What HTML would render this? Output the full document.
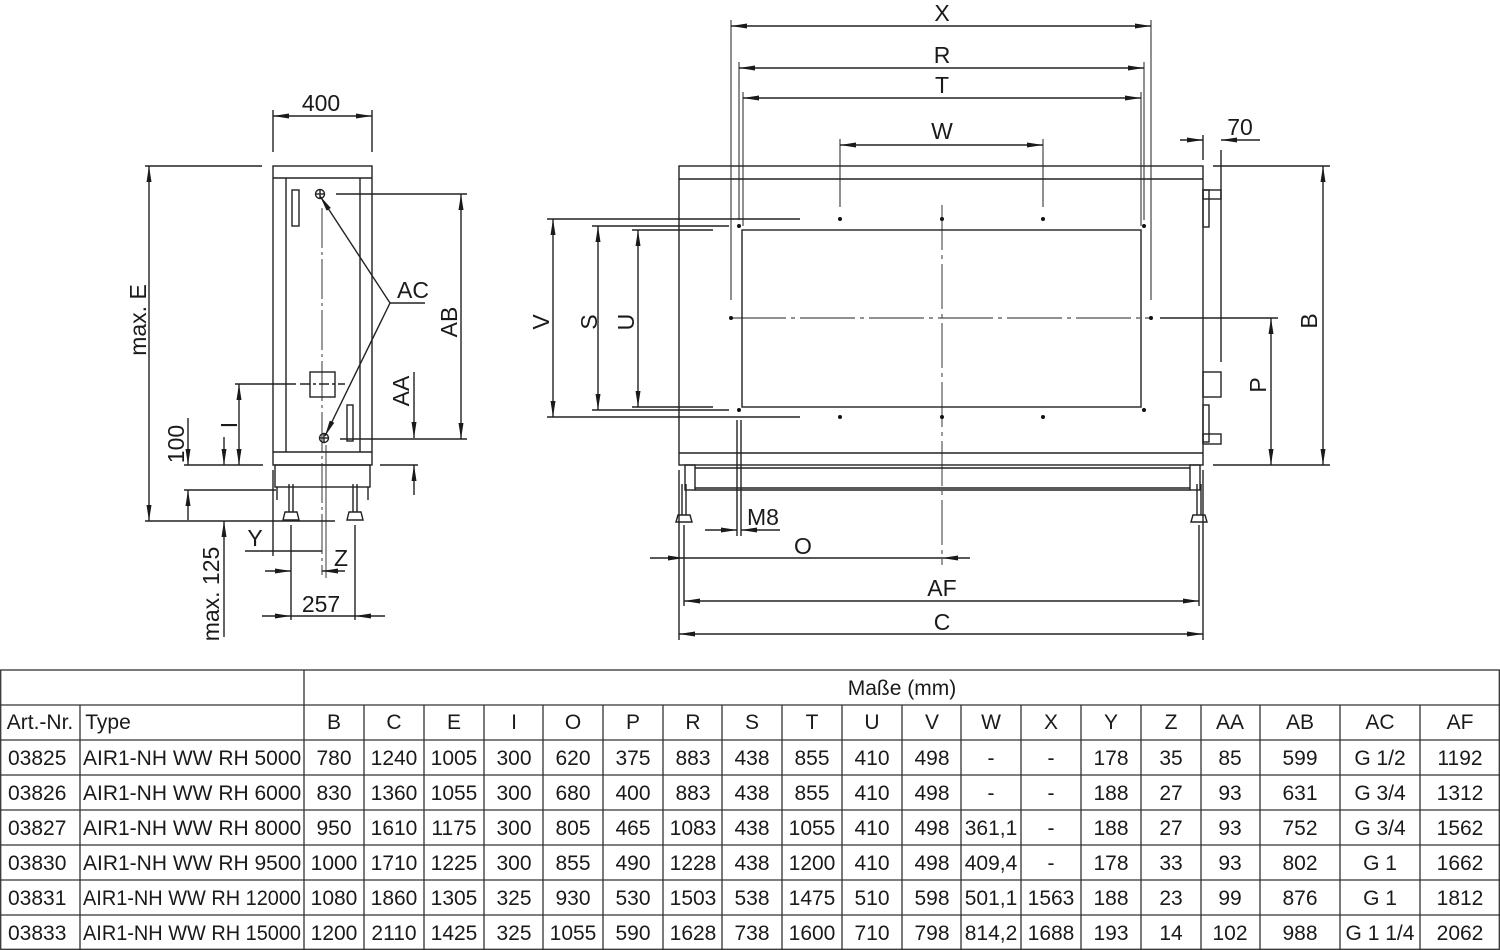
<!DOCTYPE html>
<html><head><meta charset="utf-8"><style>
html,body{margin:0;padding:0;background:#fff;width:1500px;height:950px;overflow:hidden}
svg{display:block}
text{font-family:"Liberation Sans",sans-serif;fill:#1a1a1a}
</style></head><body>
<svg width="1500" height="950" viewBox="0 0 1500 950" xmlns="http://www.w3.org/2000/svg">
<defs>
<marker id="a" viewBox="0 0 16 6" refX="16" refY="3" markerWidth="16" markerHeight="6" markerUnits="userSpaceOnUse" orient="auto-start-reverse"><path d="M0,0.5 L16,3 L0,5.5 z" fill="#1a1a1a"/></marker>
</defs>
<g stroke="#222" stroke-width="1.4" fill="none">
<!-- LEFT VIEW -->
<rect x="273" y="166" width="99" height="299"/>
<line x1="273" y1="178" x2="372" y2="178"/>
<line x1="273" y1="452" x2="372" y2="452"/>
<line x1="286" y1="178" x2="286" y2="452"/>
<line x1="360" y1="178" x2="360" y2="452"/>
<rect x="292" y="190" width="7" height="36"/>
<rect x="347" y="405" width="6" height="36"/>
<circle cx="320" cy="194" r="4.5"/><line x1="315" y1="194" x2="325" y2="194"/><line x1="320" y1="189" x2="320" y2="199"/>
<circle cx="324" cy="438" r="4.5"/><line x1="319" y1="438" x2="329" y2="438"/><line x1="324" y1="433" x2="324" y2="443"/>
<rect x="310" y="372" width="25" height="25"/>
<line x1="322" y1="208" x2="322" y2="575" stroke-width="0.9" stroke-dasharray="40,4,3,4"/>
<line x1="326" y1="445" x2="326" y2="578" stroke-width="0.9"/>
<rect x="275" y="465" width="95" height="22"/>
<line x1="277" y1="487" x2="277" y2="500"/><line x1="368" y1="487" x2="368" y2="500"/>
<line x1="289" y1="484" x2="289" y2="512"/><line x1="293" y1="484" x2="293" y2="512"/>
<line x1="353" y1="484" x2="353" y2="512"/><line x1="357" y1="484" x2="357" y2="512"/>
<path d="M283,520 L285,512 L297,512 L299,520 z"/><path d="M347,520 L349,512 L361,512 L363,520 z"/>
<line x1="273" y1="110" x2="273" y2="152"/><line x1="372" y1="110" x2="372" y2="152"/>
<line x1="273" y1="116" x2="372" y2="116" marker-start="url(#a)" marker-end="url(#a)"/>
<line x1="145" y1="166" x2="262" y2="166"/>
<line x1="145" y1="521" x2="335" y2="521"/>
<line x1="149" y1="166" x2="149" y2="521" marker-start="url(#a)" marker-end="url(#a)"/>
<line x1="336" y1="194" x2="467" y2="194"/><line x1="340" y1="439" x2="467" y2="439"/>
<line x1="461" y1="194" x2="461" y2="439" marker-start="url(#a)" marker-end="url(#a)"/>
<line x1="414" y1="372" x2="414" y2="438" marker-end="url(#a)"/>
<line x1="414" y1="495" x2="414" y2="465" marker-end="url(#a)"/>
<line x1="380" y1="465" x2="418" y2="465"/>
<line x1="235" y1="384" x2="296" y2="384"/><line x1="300" y1="384" x2="345" y2="384" stroke-dasharray="10,3,3,3"/>
<line x1="239" y1="384" x2="239" y2="465" marker-start="url(#a)" marker-end="url(#a)"/>
<line x1="184" y1="465" x2="263" y2="465"/><line x1="184" y1="490" x2="276" y2="490"/>
<line x1="188" y1="418" x2="188" y2="465" marker-end="url(#a)"/>
<line x1="188" y1="520" x2="188" y2="490" marker-end="url(#a)"/>
<line x1="224" y1="465" x2="224" y2="437" marker-start="url(#a)"/>
<line x1="224" y1="521" x2="224" y2="637" marker-start="url(#a)"/>
<line x1="390" y1="303" x2="320" y2="196" marker-end="url(#a)"/>
<line x1="390" y1="303" x2="325" y2="436" marker-end="url(#a)"/>
<line x1="390" y1="303" x2="425" y2="303"/>
<line x1="273" y1="470" x2="273" y2="556"/>
<line x1="245" y1="551" x2="322" y2="551"/>
<line x1="291" y1="525" x2="291" y2="620"/><line x1="355" y1="525" x2="355" y2="620"/>
<line x1="265" y1="571" x2="291" y2="571" marker-end="url(#a)"/>
<line x1="345" y1="571" x2="322" y2="571" marker-end="url(#a)"/>
<line x1="262" y1="616" x2="291" y2="616" marker-end="url(#a)"/>
<line x1="385" y1="616" x2="355" y2="616" marker-end="url(#a)"/>
<line x1="291" y1="616" x2="355" y2="616"/>

<!-- RIGHT VIEW -->
<rect x="679" y="166" width="524" height="299"/>
<line x1="679" y1="179" x2="1203" y2="179"/>
<line x1="679" y1="453" x2="1203" y2="453"/>
<rect x="742" y="230" width="399" height="177"/>
<rect x="1203" y="190" width="18" height="9"/><rect x="1203" y="190" width="6" height="37"/>
<rect x="1203" y="372" width="18" height="25"/>
<rect x="1203" y="405" width="6" height="37"/><rect x="1203" y="434" width="18" height="10"/>
<line x1="1221" y1="150" x2="1221" y2="362"/><line x1="1203" y1="135" x2="1203" y2="160"/>
<rect x="685" y="465" width="10" height="25"/><rect x="1190" y="465" width="10" height="25"/>
<line x1="695" y1="468" x2="1190" y2="468"/><line x1="695" y1="488" x2="1190" y2="488"/>
<line x1="695" y1="490" x2="1190" y2="490"/>
<line x1="682" y1="484" x2="682" y2="515"/><line x1="686" y1="484" x2="686" y2="515"/>
<line x1="1197" y1="484" x2="1197" y2="515"/><line x1="1201" y1="484" x2="1201" y2="515"/>
<path d="M676,522 L678,515 L690,515 L692,522 z"/><path d="M1191,522 L1193,515 L1205,515 L1207,522 z"/>
<line x1="731" y1="318" x2="1151" y2="318" stroke-width="0.9" stroke-dasharray="55,5,4,5"/>
<line x1="942" y1="205" x2="942" y2="565" stroke-width="0.9" stroke-dasharray="45,5,4,5"/>
<line x1="731" y1="20" x2="731" y2="300" stroke-width="1"/>
<line x1="1151" y1="20" x2="1151" y2="300" stroke-width="1"/>
<line x1="739" y1="62" x2="739" y2="220" stroke-width="1"/>
<line x1="1144" y1="62" x2="1144" y2="220" stroke-width="1"/>
<line x1="743" y1="92" x2="743" y2="226" stroke-width="1"/>
<line x1="1141" y1="92" x2="1141" y2="226" stroke-width="1"/>
<line x1="840" y1="139" x2="840" y2="207" stroke-width="1"/>
<line x1="1043" y1="139" x2="1043" y2="207" stroke-width="1"/>
<line x1="731" y1="26" x2="1151" y2="26" marker-start="url(#a)" marker-end="url(#a)"/>
<line x1="739" y1="68" x2="1144" y2="68" marker-start="url(#a)" marker-end="url(#a)"/>
<line x1="743" y1="98" x2="1141" y2="98" marker-start="url(#a)" marker-end="url(#a)"/>
<line x1="840" y1="145" x2="1043" y2="145" marker-start="url(#a)" marker-end="url(#a)"/>
<line x1="1180" y1="140" x2="1203" y2="140" marker-end="url(#a)"/>
<line x1="1260" y1="140" x2="1221" y2="140" marker-end="url(#a)"/>
<line x1="1213" y1="166" x2="1330" y2="166"/><line x1="1213" y1="465" x2="1330" y2="465"/>
<line x1="1323" y1="166" x2="1323" y2="465" marker-start="url(#a)" marker-end="url(#a)"/>
<line x1="1160" y1="318" x2="1278" y2="318"/>
<line x1="1271" y1="318" x2="1271" y2="465" marker-start="url(#a)" marker-end="url(#a)"/>
<line x1="547" y1="219" x2="800" y2="219"/><line x1="547" y1="417" x2="800" y2="417"/>
<line x1="553" y1="219" x2="553" y2="417" marker-start="url(#a)" marker-end="url(#a)"/>
<line x1="592" y1="226" x2="729" y2="226"/><line x1="592" y1="410" x2="729" y2="410"/>
<line x1="598" y1="226" x2="598" y2="410" marker-start="url(#a)" marker-end="url(#a)"/>
<line x1="632" y1="230" x2="713" y2="230"/><line x1="632" y1="407" x2="713" y2="407"/>
<line x1="638" y1="230" x2="638" y2="407" marker-start="url(#a)" marker-end="url(#a)"/>
<line x1="737" y1="420" x2="737" y2="536"/><line x1="741" y1="420" x2="741" y2="536"/>
<line x1="705" y1="530" x2="737" y2="530" marker-end="url(#a)"/>
<line x1="780" y1="530" x2="741" y2="530" marker-end="url(#a)"/>
<line x1="679" y1="470" x2="679" y2="640"/><line x1="1203" y1="470" x2="1203" y2="640"/>
<line x1="684" y1="525" x2="684" y2="606"/><line x1="1199" y1="525" x2="1199" y2="606"/>
<line x1="650" y1="558" x2="684" y2="558" marker-end="url(#a)"/>
<line x1="970" y1="558" x2="942" y2="558" marker-end="url(#a)"/>
<line x1="684" y1="558" x2="942" y2="558"/>
<line x1="684" y1="601" x2="1199" y2="601" marker-start="url(#a)" marker-end="url(#a)"/>
<line x1="679" y1="634" x2="1203" y2="634" marker-start="url(#a)" marker-end="url(#a)"/>
</g>
<g fill="#111">
<circle cx="739" cy="226" r="2"/><circle cx="1144" cy="226" r="2"/>
<circle cx="840" cy="219" r="2"/><circle cx="942" cy="219" r="2"/><circle cx="1043" cy="219" r="2"/>
<circle cx="739" cy="410" r="2"/><circle cx="1144" cy="410" r="2"/>
<circle cx="840" cy="417" r="2"/><circle cx="942" cy="417" r="2"/><circle cx="1043" cy="417" r="2"/>
<circle cx="731" cy="318" r="2"/><circle cx="1151" cy="318" r="2"/>
</g>
<g font-size="23" text-anchor="middle">
<text x="321" y="111">400</text>
<text x="413" y="298">AC</text>
<text transform="translate(146,320) rotate(-90)">max. E</text>
<text transform="translate(457,322) rotate(-90)">AB</text>
<text transform="translate(409,391) rotate(-90)">AA</text>
<text transform="translate(237,425) rotate(-90)">I</text>
<text transform="translate(184,444) rotate(-90)">100</text>
<text transform="translate(219,594) rotate(-90)">max. 125</text>
<text x="255" y="546">Y</text>
<text x="341" y="566">Z</text>
<text x="321" y="612">257</text>
<text x="942" y="21">X</text>
<text x="942" y="63">R</text>
<text x="942" y="93">T</text>
<text x="942" y="139">W</text>
<text x="1240" y="135">70</text>
<text transform="translate(1317,321) rotate(-90)">B</text>
<text transform="translate(1266,385) rotate(-90)">P</text>
<text transform="translate(549,322) rotate(-90)">V</text>
<text transform="translate(597,322) rotate(-90)">S</text>
<text transform="translate(634,322) rotate(-90)">U</text>
<text x="763" y="525">M8</text>
<text x="803" y="554">O</text>
<text x="942" y="596">AF</text>
<text x="942" y="630">C</text>
</g>
<!-- TABLE -->
<g stroke="#333" stroke-width="1.3">
<rect x="0.7" y="670" width="1498.6" height="279.3" fill="none"/>
<line x1="0" y1="705" x2="1500" y2="705"/>
<line x1="0" y1="740" x2="1500" y2="740"/>
<line x1="0" y1="775" x2="1500" y2="775"/>
<line x1="0" y1="810" x2="1500" y2="810"/>
<line x1="0" y1="845" x2="1500" y2="845"/>
<line x1="0" y1="880" x2="1500" y2="880"/>
<line x1="0" y1="915" x2="1500" y2="915"/>
<line x1="304" y1="670" x2="304" y2="950"/>
<line x1="80" y1="705" x2="80" y2="950"/>
<line x1="364" y1="705" x2="364" y2="950"/><line x1="424" y1="705" x2="424" y2="950"/>
<line x1="484" y1="705" x2="484" y2="950"/><line x1="543" y1="705" x2="543" y2="950"/>
<line x1="603" y1="705" x2="603" y2="950"/><line x1="663" y1="705" x2="663" y2="950"/>
<line x1="722" y1="705" x2="722" y2="950"/><line x1="782" y1="705" x2="782" y2="950"/>
<line x1="842" y1="705" x2="842" y2="950"/><line x1="902" y1="705" x2="902" y2="950"/>
<line x1="961" y1="705" x2="961" y2="950"/><line x1="1021" y1="705" x2="1021" y2="950"/>
<line x1="1081" y1="705" x2="1081" y2="950"/><line x1="1141" y1="705" x2="1141" y2="950"/>
<line x1="1201" y1="705" x2="1201" y2="950"/><line x1="1260" y1="705" x2="1260" y2="950"/>
<line x1="1340" y1="705" x2="1340" y2="950"/><line x1="1420" y1="705" x2="1420" y2="950"/>
</g>
<g font-size="21" text-anchor="middle">
<text x="902" y="695">Maße (mm)</text>
<text x="40" y="729">Art.-Nr.</text><text x="108" y="729">Type</text>
<text x="334" y="729">B</text><text x="394" y="729">C</text><text x="454" y="729">E</text><text x="514" y="729">I</text><text x="573" y="729">O</text><text x="633" y="729">P</text><text x="693" y="729">R</text><text x="752" y="729">S</text><text x="812" y="729">T</text><text x="872" y="729">U</text><text x="932" y="729">V</text><text x="991" y="729">W</text><text x="1051" y="729">X</text><text x="1111" y="729">Y</text><text x="1171" y="729">Z</text><text x="1230" y="729">AA</text><text x="1300" y="729">AB</text><text x="1380" y="729">AC</text><text x="1460" y="729">AF</text>
</g>
<g font-size="21">
<text x="8" y="765">03825</text><text x="83" y="765">AIR1-NH WW RH 5000</text>
<text x="8" y="800">03826</text><text x="83" y="800">AIR1-NH WW RH 6000</text>
<text x="8" y="835">03827</text><text x="83" y="835">AIR1-NH WW RH 8000</text>
<text x="8" y="870">03830</text><text x="83" y="870">AIR1-NH WW RH 9500</text>
<text x="8" y="905">03831</text><text x="83" y="905" textLength="218" lengthAdjust="spacingAndGlyphs">AIR1-NH WW RH 12000</text>
<text x="8" y="940">03833</text><text x="83" y="940" textLength="218" lengthAdjust="spacingAndGlyphs">AIR1-NH WW RH 15000</text>
</g>
<g font-size="21" text-anchor="middle">
<g transform="translate(0,765)"><text x="334">780</text><text x="394">1240</text><text x="454">1005</text><text x="514">300</text><text x="573">620</text><text x="633">375</text><text x="693">883</text><text x="752">438</text><text x="812">855</text><text x="872">410</text><text x="932">498</text><text x="991">-</text><text x="1051">-</text><text x="1111">178</text><text x="1171">35</text><text x="1230">85</text><text x="1300">599</text><text x="1380">G 1/2</text><text x="1460">1192</text></g>
<g transform="translate(0,800)"><text x="334">830</text><text x="394">1360</text><text x="454">1055</text><text x="514">300</text><text x="573">680</text><text x="633">400</text><text x="693">883</text><text x="752">438</text><text x="812">855</text><text x="872">410</text><text x="932">498</text><text x="991">-</text><text x="1051">-</text><text x="1111">188</text><text x="1171">27</text><text x="1230">93</text><text x="1300">631</text><text x="1380">G 3/4</text><text x="1460">1312</text></g>
<g transform="translate(0,835)"><text x="334">950</text><text x="394">1610</text><text x="454">1175</text><text x="514">300</text><text x="573">805</text><text x="633">465</text><text x="693">1083</text><text x="752">438</text><text x="812">1055</text><text x="872">410</text><text x="932">498</text><text x="991">361,1</text><text x="1051">-</text><text x="1111">188</text><text x="1171">27</text><text x="1230">93</text><text x="1300">752</text><text x="1380">G 3/4</text><text x="1460">1562</text></g>
<g transform="translate(0,870)"><text x="334">1000</text><text x="394">1710</text><text x="454">1225</text><text x="514">300</text><text x="573">855</text><text x="633">490</text><text x="693">1228</text><text x="752">438</text><text x="812">1200</text><text x="872">410</text><text x="932">498</text><text x="991">409,4</text><text x="1051">-</text><text x="1111">178</text><text x="1171">33</text><text x="1230">93</text><text x="1300">802</text><text x="1380">G 1</text><text x="1460">1662</text></g>
<g transform="translate(0,905)"><text x="334">1080</text><text x="394">1860</text><text x="454">1305</text><text x="514">325</text><text x="573">930</text><text x="633">530</text><text x="693">1503</text><text x="752">538</text><text x="812">1475</text><text x="872">510</text><text x="932">598</text><text x="991">501,1</text><text x="1051">1563</text><text x="1111">188</text><text x="1171">23</text><text x="1230">99</text><text x="1300">876</text><text x="1380">G 1</text><text x="1460">1812</text></g>
<g transform="translate(0,940)"><text x="334">1200</text><text x="394">2110</text><text x="454">1425</text><text x="514">325</text><text x="573">1055</text><text x="633">590</text><text x="693">1628</text><text x="752">738</text><text x="812">1600</text><text x="872">710</text><text x="932">798</text><text x="991">814,2</text><text x="1051">1688</text><text x="1111">193</text><text x="1171">14</text><text x="1230">102</text><text x="1300">988</text><text x="1380">G 1 1/4</text><text x="1460">2062</text></g>
</g>
</svg>
</body></html>
